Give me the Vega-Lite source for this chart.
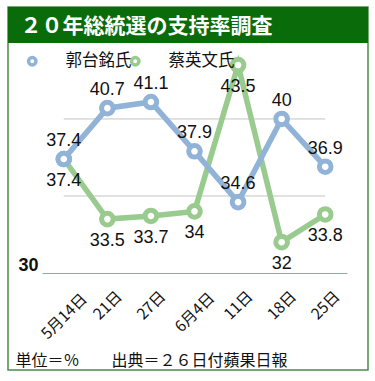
{
  "$schema": "https://vega.github.io/schema/vega-lite/v6.json",
  "width": 360,
  "height": 363,
  "autosize": {"type": "none"},
  "padding": {"left": 8, "top": 7, "right": 7, "bottom": 11},
  "background": "white",
  "config": {
    "font": "Noto Sans CJK JP",
    "view": {"stroke": "#4b8b4b", "strokeWidth": 1.5}
  },
  "data": {
    "values": [
      {"date": "5月14日", "series": "蔡英文氏", "value": 37.4},
      {"date": "21日", "series": "蔡英文氏", "value": 33.5},
      {"date": "27日", "series": "蔡英文氏", "value": 33.7},
      {"date": "6月4日", "series": "蔡英文氏", "value": 34},
      {"date": "11日", "series": "蔡英文氏", "value": 43.5},
      {"date": "18日", "series": "蔡英文氏", "value": 32},
      {"date": "25日", "series": "蔡英文氏", "value": 33.8},
      {"date": "5月14日", "series": "郭台銘氏", "value": 37.4},
      {"date": "21日", "series": "郭台銘氏", "value": 40.7},
      {"date": "27日", "series": "郭台銘氏", "value": 41.1},
      {"date": "6月4日", "series": "郭台銘氏", "value": 37.9},
      {"date": "11日", "series": "郭台銘氏", "value": 34.6},
      {"date": "18日", "series": "郭台銘氏", "value": 40},
      {"date": "25日", "series": "郭台銘氏", "value": 36.9}
    ]
  },
  "layer": [
    {
      "data": {"values": [{"g": 35}, {"g": 40}]},
      "mark": {"type": "rule", "color": "#c4c4c4", "strokeWidth": 1},
      "encoding": {
        "x": {"datum": "5月14日", "type": "ordinal",
              "scale": {"type": "point", "domain": ["5月14日", "21日", "27日", "6月4日", "11日", "18日", "25日"], "range": [34, 339]}},
        "x2": {"datum": "25日"},
        "y": {"field": "g", "type": "quantitative",
              "scale": {"domain": [23.7, 47.27], "nice": false, "zero": false}}
      }
    },
    {
      "mark": {"type": "line", "strokeWidth": 5.5},
      "encoding": {
        "x": {"field": "date", "type": "ordinal",
              "scale": {"type": "point", "domain": ["5月14日", "21日", "27日", "6月4日", "11日", "18日", "25日"], "range": [34, 339]},
              "axis": {"title": "単位＝％　　出典＝２６日付蘋果日報", "titleX": 7, "titleY": 79, "titleAlign": "left", "titleBaseline": "top",
                       "titleAngle": 0, "titleFontSize": 16, "titleFontWeight": "normal", "titleColor": "#111111", "titleFont": "Noto Sans CJK JP",
                       "orient": "bottom", "offset": -97, "zindex": 1,
                       "domain": true, "domainColor": "#8fa5bb", "domainWidth": 1,
                       "ticks": false, "tickSize": 0, "grid": false, "labelAngle": -45, "labelAlign": "center", "labelBaseline": "middle",
                       "labelPadding": {"condition": [{"test": "length(datum.label) >= 5", "value": 43}, {"test": "length(datum.label) == 4", "value": 39}], "value": 32},
                       "labelFontSize": 15.5, "labelColor": "#111111", "labelFont": "Noto Sans CJK JP",
                       "labelOverlap": false, "labelFlush": false, "labelBound": false}},
        "y": {"field": "value", "type": "quantitative",
              "scale": {"domain": [23.7, 47.27], "nice": false, "zero": false},
              "axis": {"title": "２０年総統選の支持率調査", "titleX": -20, "titleY": 19, "titleAlign": "left", "titleBaseline": "middle",
                       "titleAngle": 0, "titleFontSize": 21, "titleFontWeight": "bold", "titleColor": "white", "titleFont": "Noto Sans CJK JP",
                       "orient": "left", "values": [30], "offset": -32, "zindex": 1,
                       "domain": false, "ticks": false, "tickSize": 0, "grid": false,
                       "labelFontSize": 18, "labelFontWeight": "bold", "labelFont": "Liberation Sans",
                       "labelColor": "#111111", "labelPadding": 2, "labelBaseline": "alphabetic", "labelOffset": -2, "labelFlush": false}},
        "stroke": {"field": "series", "type": "nominal",
                   "scale": {"domain": ["郭台銘氏", "蔡英文氏"], "range": ["#91b3d8", "#99cb8f"]},
                   "legend": {"title": null, "orient": "none", "legendX": 16, "legendY": 46, "direction": "horizontal",
                              "gridAlign": "none",
                              "symbolType": "circle", "symbolSize": 55, "symbolStrokeWidth": 3.5, "symbolFillColor": "white",
                              "labelFontSize": 16.5, "labelFont": "Noto Sans CJK JP", "labelColor": "#111111",
                              "labelOffset": 25, "columnPadding": -8, "padding": 0}}
      }
    },
    {
      "mark": {"type": "point", "shape": "circle", "filled": true, "fill": "white", "size": 135, "strokeWidth": 5, "opacity": 1},
      "encoding": {
        "x": {"field": "date", "type": "ordinal"},
        "y": {"field": "value", "type": "quantitative"},
        "stroke": {"field": "series", "type": "nominal"}
      }
    },
    {
      "transform": [{"filter": "datum.series === '郭台銘氏'"}],
      "mark": {"type": "text", "dy": -18, "fontSize": 18, "font": "Liberation Sans", "color": "#111111", "baseline": "middle"},
      "encoding": {
        "x": {"field": "date", "type": "ordinal"},
        "y": {"field": "value", "type": "quantitative"},
        "text": {"field": "value", "type": "nominal"}
      }
    },
    {
      "transform": [{"filter": "datum.series === '蔡英文氏'"}],
      "mark": {"type": "text", "dy": 22, "fontSize": 18, "font": "Liberation Sans", "color": "#111111", "baseline": "middle"},
      "encoding": {
        "x": {"field": "date", "type": "ordinal"},
        "y": {"field": "value", "type": "quantitative"},
        "text": {"field": "value", "type": "nominal"}
      }
    },
    {
      "data": {"values": [{"band": "header"}]},
      "mark": {"type": "rect", "color": "#0a6b0a"},
      "encoding": {
        "y": {"datum": 47.27, "type": "quantitative"},
        "y2": {"datum": 44.93}
      }
    }
  ]
}
